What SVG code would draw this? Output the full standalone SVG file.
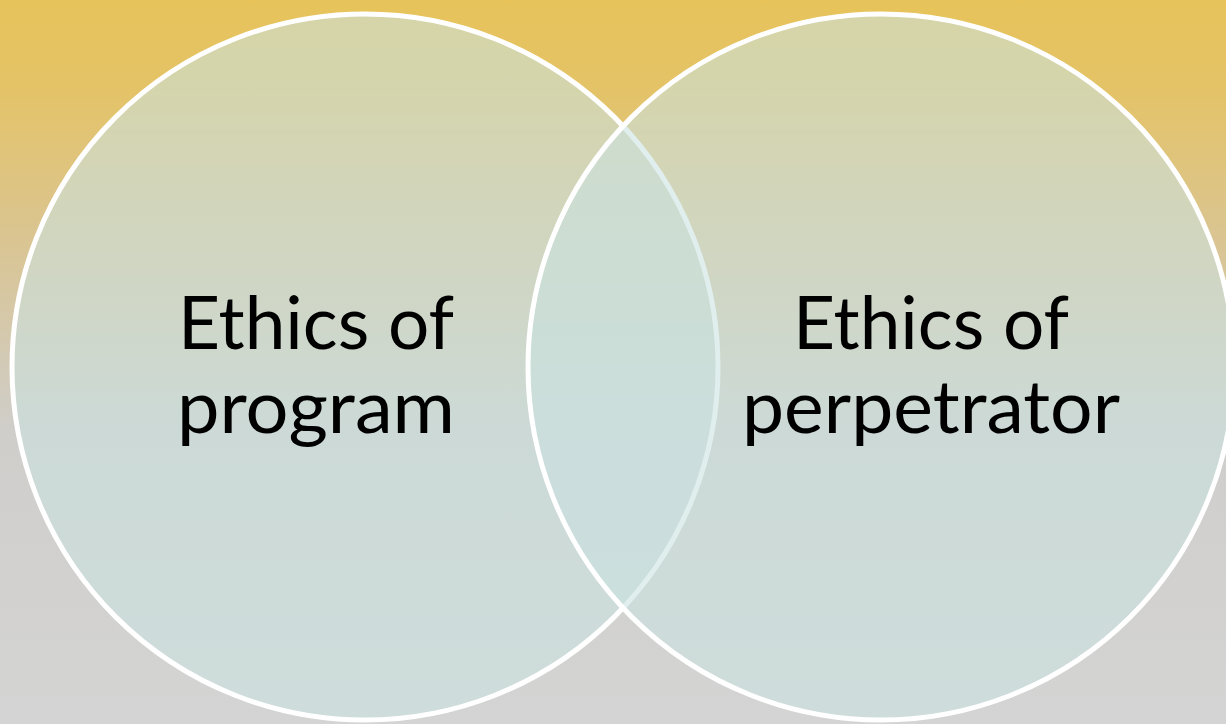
<svg xmlns="http://www.w3.org/2000/svg" width="1226" height="724" viewBox="0 0 1226 724">
  <defs>
    <linearGradient id="bg" x1="0" y1="0" x2="0" y2="1">
      <stop offset="0" stop-color="#E7C35A"/>
      <stop offset="0.12" stop-color="#E4C367"/>
      <stop offset="0.35" stop-color="#D9C596"/>
      <stop offset="0.6" stop-color="#CFCECB"/>
      <stop offset="1" stop-color="#D4D4D4"/>
    </linearGradient>
  </defs>
  <style>
    .set { fill: #CAE2E0; fill-opacity: 0.58; stroke: #FFFFFF; stroke-width: 5; }
    .label { font-family: Lato, "Liberation Sans", sans-serif; font-size: 73px; fill: #000000; text-anchor: middle; }
  </style>

  <rect x="0" y="0" width="1226" height="724" fill="url(#bg)"/>

  <g id="ethics-of-program">
    <circle class="set" cx="365" cy="367" r="353"/>
    <text class="label" x="316" y="349" textLength="276" lengthAdjust="spacingAndGlyphs">Ethics of</text>
    <text class="label" x="316" y="433" textLength="278" lengthAdjust="spacingAndGlyphs">program</text>
  </g>

  <g id="ethics-of-perpetrator">
    <circle class="set" cx="881" cy="367" r="353"/>
    <text class="label" x="931" y="349" textLength="276" lengthAdjust="spacingAndGlyphs">Ethics of</text>
    <text class="label" x="931" y="433" textLength="378" lengthAdjust="spacingAndGlyphs">perpetrator</text>
  </g>

  <g id="connectors"/>
</svg>
